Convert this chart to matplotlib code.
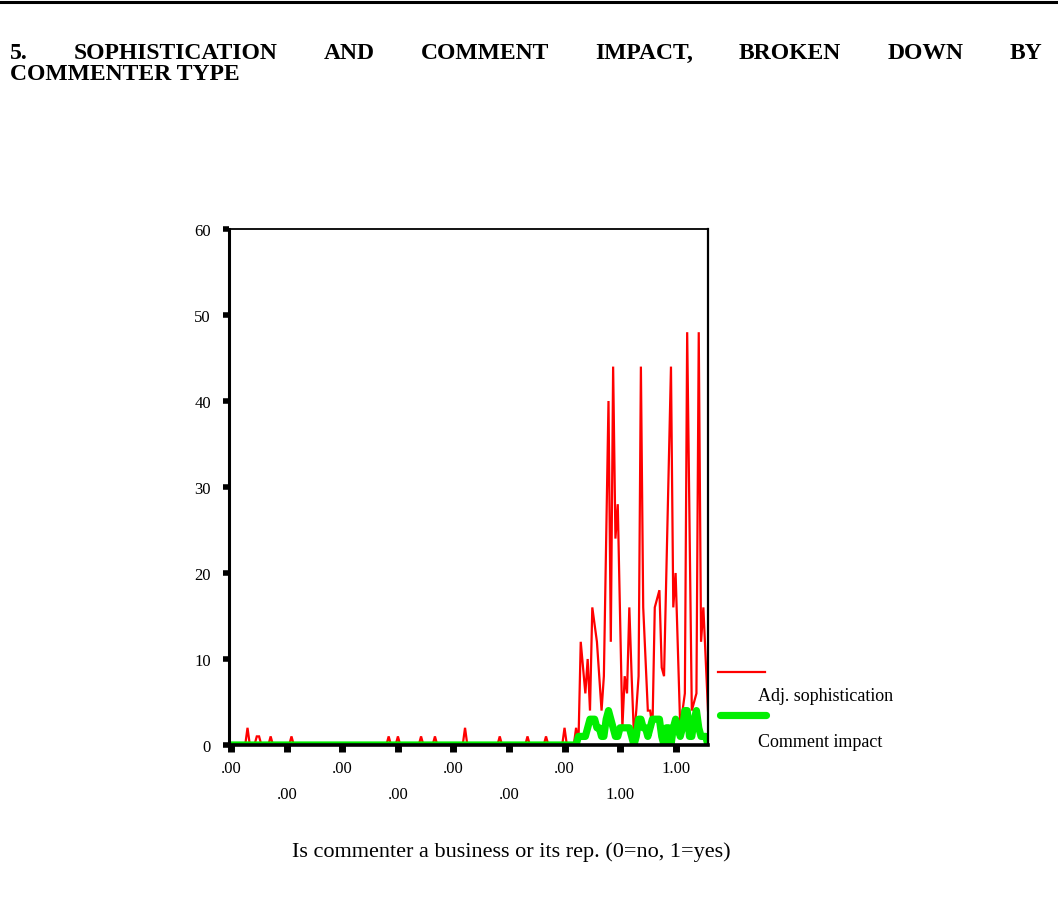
import matplotlib
matplotlib.use("Agg")
import matplotlib.pyplot as plt
from matplotlib.lines import Line2D
import numpy as np

# ---------------- data (one value per case) ----------------
adj_sophistication = [
    0, 0, 0, 0, 0, 0, 0, 0, 2, 0, 0, 0, 1, 1, 0, 0, 0, 0, 1, 0, 0, 0, 0, 0, 0, 0,
    0, 1, 0, 0, 0, 0, 0, 0, 0, 0, 0, 0, 0, 0, 0, 0, 0, 0, 0, 0, 0, 0, 0, 0, 0, 0,
    0, 0, 0, 0, 0, 0, 0, 0, 0, 0, 0, 0, 0, 0, 0, 0, 0, 1, 0, 0, 0, 1, 0, 0, 0, 0,
    0, 0, 0, 0, 0, 1, 0, 0, 0, 0, 0, 1, 0, 0, 0, 0, 0, 0, 0, 0, 0, 0, 0, 0, 2, 0,
    0, 0, 0, 0, 0, 0, 0, 0, 0, 0, 0, 0, 0, 1, 0, 0, 0, 0, 0, 0, 0, 0, 0, 0, 0, 1,
    0, 0, 0, 0, 0, 0, 0, 1, 0, 0, 0, 0, 0, 0, 0, 2, 0, 0, 0, 0, 2, 0, 12, 9, 6, 10,
    4, 16, 14, 12, 8, 4, 8, 24, 40, 12, 44, 24, 28, 15, 2, 8, 6, 16, 8, 1, 4, 8, 44, 16, 10, 4,
    4, 2, 16, 17, 18, 9, 8, 20, 32, 44, 16, 20, 11, 2, 4, 6, 48, 26, 4, 5, 6, 48, 12, 16, 10, 4,
]
comment_impact = [
    0, 0, 0, 0, 0, 0, 0, 0, 0, 0, 0, 0, 0, 0, 0, 0, 0, 0, 0, 0, 0, 0, 0, 0, 0, 0,
    0, 0, 0, 0, 0, 0, 0, 0, 0, 0, 0, 0, 0, 0, 0, 0, 0, 0, 0, 0, 0, 0, 0, 0, 0, 0,
    0, 0, 0, 0, 0, 0, 0, 0, 0, 0, 0, 0, 0, 0, 0, 0, 0, 0, 0, 0, 0, 0, 0, 0, 0, 0,
    0, 0, 0, 0, 0, 0, 0, 0, 0, 0, 0, 0, 0, 0, 0, 0, 0, 0, 0, 0, 0, 0, 0, 0, 0, 0,
    0, 0, 0, 0, 0, 0, 0, 0, 0, 0, 0, 0, 0, 0, 0, 0, 0, 0, 0, 0, 0, 0, 0, 0, 0, 0,
    0, 0, 0, 0, 0, 0, 0, 0, 0, 0, 0, 0, 0, 0, 0, 0, 0, 0, 0, 0, 0, 1, 1, 1, 1, 2,
    3, 3, 3, 2, 2, 1, 1, 3, 4, 3, 2, 1, 1, 2, 2, 2, 2, 2, 1, 0, 1, 3, 3, 2, 2, 1,
    2, 3, 3, 3, 3, 1, 0, 2, 2, 0, 2, 3, 2, 1, 2, 4, 4, 1, 1, 3, 4, 2, 1, 1, 1, 0,
]
tick_cases = [1, 25, 49, 73, 97, 121, 145, 169, 193]
tick_labels = [".00", ".00", ".00", ".00", ".00", ".00", ".00", "1.00", "1.00"]
y_ticks = [0, 10, 20, 30, 40, 50, 60]
series_names = ["Adj. sophistication", "Comment impact"]
title_line1 = "5. SOPHISTICATION AND COMMENT IMPACT, BROKEN DOWN BY"
title_line2 = "COMMENTER TYPE"
x_label = "Is commenter a business or its rep. (0=no, 1=yes)"

# ---------------- figure ----------------
W, H = 1058, 904
plt.rcParams['font.family'] = ['Liberation Serif', 'DejaVu Serif']
fig = plt.figure(figsize=(W / 100, H / 100), dpi=100)

def fx(px):
    return px / W

def fy(py):
    return 1 - py / H

# top rule
fig.add_artist(Line2D([0, 1], [fy(2.5), fy(2.5)], color='black', lw=2.2))

# justified title line 1
title_size = 17
words = title_line1.split(" ")
renderer = fig.canvas.get_renderer()
txts = [fig.text(0, fy(59), w, fontsize=title_size, fontweight='bold', va='baseline', ha='left')
        for w in words]
widths = [t.get_window_extent(renderer).width for t in txts]
left, right = 10, 1042
gap = (right - left - sum(widths)) / (len(words) - 1)
x = left
for t, w in zip(txts, widths):
    t.set_x(fx(x))
    x += w + gap
fig.text(fx(10), fy(80), title_line2, fontsize=title_size, fontweight='bold',
         va='baseline', ha='left')

# axes
ax_l, ax_r, ax_t, ax_b = 229, 708, 230, 746
ax = fig.add_axes([fx(ax_l), fy(ax_b), fx(ax_r - ax_l), (ax_b - ax_t) / H])
cases = np.arange(len(adj_sophistication))
red, = ax.plot(cases, adj_sophistication, color='#ff0000', lw=1.6, zorder=2,
               solid_joinstyle='miter')
green, = ax.plot(cases, comment_impact, color='#00ee00', lw=5.2, zorder=3,
                 solid_joinstyle='round', solid_capstyle='round')
ax.set_xlim(0, len(cases) - 1)
ax.set_ylim(0, 60)
ax.set_yticks(y_ticks)
ax.set_yticklabels([str(v) for v in y_ticks])
ax.set_xticks(tick_cases)
ax.set_xticklabels([lab if i % 2 == 0 else "\n" + lab for i, lab in enumerate(tick_labels)],
                   linespacing=1.85)
ax.tick_params(axis='y', direction='out', length=4, width=4, pad=9, labelsize=12)
ax.tick_params(axis='x', direction='out', length=5, width=5, pad=6, labelsize=12)
for side, lw in [('left', 2.2), ('bottom', 2.6), ('top', 1.3), ('right', 1.6)]:
    ax.spines[side].set_linewidth(lw)
    ax.spines[side].set_color('black')
    ax.spines[side].set_zorder(4)

# legend (drawn beside the axes)
def axx(px):
    return (px - ax_l) / (ax_r - ax_l)

def axy(py):
    return (ax_b - py) / (ax_b - ax_t)

ax.add_line(Line2D([axx(718), axx(765)], [axy(673), axy(673)], color=red.get_color(),
                   lw=red.get_linewidth(), transform=ax.transAxes, clip_on=False))
ax.text(axx(758), axy(697), series_names[0], transform=ax.transAxes, fontsize=13,
        va='center', ha='left')
ax.add_line(Line2D([axx(720), axx(766)], [axy(716), axy(716)], color=green.get_color(),
                   lw=green.get_linewidth(), solid_capstyle='round',
                   transform=ax.transAxes, clip_on=False))
ax.text(axx(758), axy(743), series_names[1], transform=ax.transAxes, fontsize=13,
        va='center', ha='left')

fig.text(fx(511), fy(852), x_label, fontsize=16, ha='center', va='center')

fig.savefig("out.png", dpi=100)
